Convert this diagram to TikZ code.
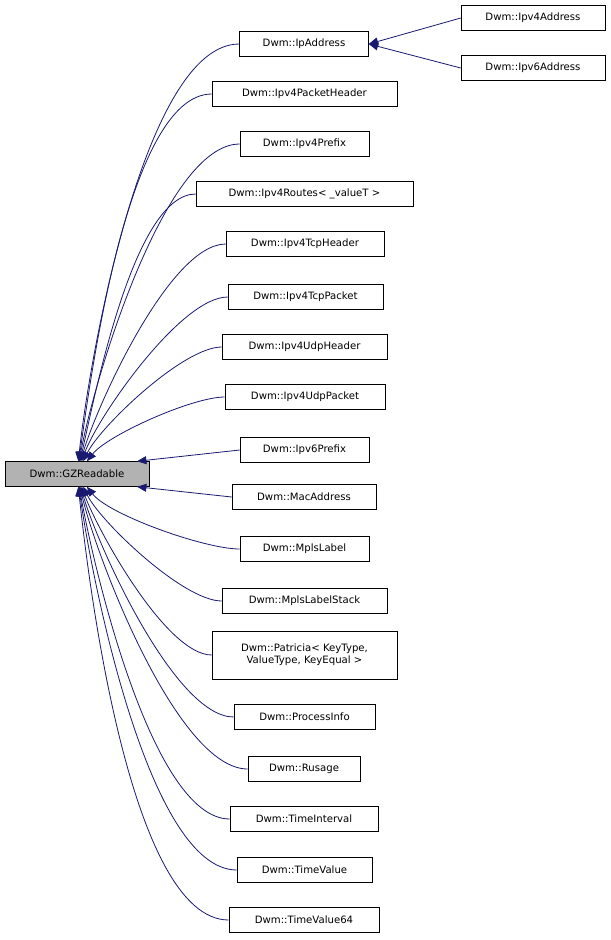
\documentclass[tikz,border=0pt]{standalone}
\usepackage{fontspec}
\setmainfont{DejaVu Sans}
\usetikzlibrary{arrows.meta}
\definecolor{edgeblue}{HTML}{191970}

\begin{document}
\begin{tikzpicture}[
            x=0.75pt, y=-0.75pt,
            box/.style={rectangle, draw, inner sep=0pt, minimum height=18.75pt, font=\fontsize{7.6}{9}\selectfont, align=center},
            base/.style={box, fill=black!30},
            edge/.style={-{Triangle[length=7pt,width=6pt]}, edgeblue, semithick}
            ]
            \useasboundingbox (0,0) rectangle (611,940);

            % Base class
            \node[base, minimum width=108pt] (gz) at (77,474) {Dwm::GZReadable};

            % Derived classes
            \node[box, minimum width=96.75pt] (ipaddr) at (304,44) {Dwm::IpAddress};
            \node[box, minimum width=108pt] (ipv4addr) at (533,18) {Dwm::Ipv4Address};
            \node[box, minimum width=108pt] (ipv6addr) at (533,68) {Dwm::Ipv6Address};
            \node[box, minimum width=138.75pt] (pkthdr) at (304.5,94) {Dwm::Ipv4PacketHeader};
            \node[box, minimum width=96.75pt] (v4prefix) at (304.5,144) {Dwm::Ipv4Prefix};
            \node[box, minimum width=162.75pt] (routes) at (304.5,194) {Dwm::Ipv4Routes< \_valueT >};
            \node[box, minimum width=118.5pt] (tcphdr) at (305,244) {Dwm::Ipv4TcpHeader};
            \node[box, minimum width=116.25pt] (tcppkt) at (305.5,297) {Dwm::Ipv4TcpPacket};
            \node[box, minimum width=123.75pt] (udphdr) at (304.5,347) {Dwm::Ipv4UdpHeader};
            \node[box, minimum width=120pt] (udppkt) at (305,397) {Dwm::Ipv4UdpPacket};
            \node[box, minimum width=96.75pt] (v6prefix) at (304.5,450) {Dwm::Ipv6Prefix};
            \node[box, minimum width=108pt] (mac) at (304,497) {Dwm::MacAddress};
            \node[box, minimum width=96.75pt] (mpls) at (304.5,549) {Dwm::MplsLabel};
            \node[box, minimum width=123.75pt] (mplsstack) at (304.5,601) {Dwm::MplsLabelStack};
            \node[box, minimum width=138.75pt, minimum height=36pt] (patricia) at (304.5,655) {Dwm::Patricia< KeyType,\\ValueType, KeyEqual >};
            \node[box, minimum width=105.75pt] (procinfo) at (304.5,717) {Dwm::ProcessInfo};
            \node[box, minimum width=84pt] (rusage) at (304,769) {Dwm::Rusage};
            \node[box, minimum width=111pt] (tinterval) at (304,819) {Dwm::TimeInterval};
            \node[box, minimum width=101.25pt] (tvalue) at (304.5,870) {Dwm::TimeValue};
            \node[box, minimum width=112.5pt] (tvalue64) at (304,920) {Dwm::TimeValue64};

            % Inheritance arrows
            \draw[edge] (ipv4addr.west) -- (ipaddr.east);
            \draw[edge] (ipv6addr.west) -- (ipaddr.east);
            \foreach \n/\a/\s in {ipaddr/84/0.55, pkthdr/82/0.55, v4prefix/80/0.55, routes/77/0.55,
                                  tcphdr/74/0.55, tcppkt/70/0.55, udphdr/64/0.55, udppkt/52/0.55}
                \draw[edge] (\n.west) to[out=180, in=\a, looseness=\s] (gz.\a);
            \draw[edge] (v6prefix.west) -- (gz.12);
            \draw[edge] (mac.west) -- (gz.-12);
            \foreach \n/\a/\s in {mpls/-52/0.55, mplsstack/-64/0.55, patricia/-70/0.55, procinfo/-74/0.55,
                                  rusage/-77/0.55, tinterval/-80/0.55, tvalue/-82/0.55, tvalue64/-84/0.55}
                \draw[edge] (\n.west) to[out=180, in=\a, looseness=\s] (gz.\a);

        \end{tikzpicture}
\end{document}
